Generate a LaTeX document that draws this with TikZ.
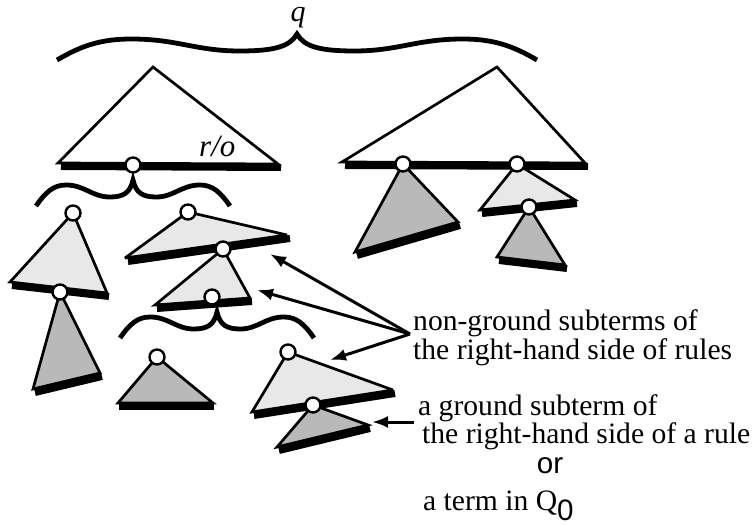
\documentclass[tikz,border=0pt]{standalone}
\usepackage{fontspec}
\setmainfont{Liberation Serif}
\newfontfamily\sansf{Liberation Sans}
\usetikzlibrary{arrows.meta}
\tikzset{
 tri/.style={draw, line width=2.7pt, line join=miter, miter limit=4},
 light/.style={tri, fill=gray!18},
 dark/.style={tri, fill=gray!55},
 blank/.style={tri, fill=white},
 shd/.style={line width=7pt, line cap=butt},
 dot/.style={circle, draw, line width=2.4pt, fill=white, minimum size=15pt, inner sep=0pt},
 brc/.style={line width=4.8pt},
 arr/.style={line width=3pt, -{Latex[length=16pt,width=12pt]}},
 lbl/.style={font=\fontsize{29.6}{30}\selectfont, inner sep=0pt, anchor=base west},
 wavy/.pic={\draw[brc] (-#1,26) .. controls (-0.9*#1,12) and (-0.82*#1,5) .. (-0.69*#1,5)
   .. controls (-0.5*#1,5) and (-0.42*#1,17) .. (-0.24*#1,17)
   .. controls (-0.1*#1,17) and (-0.03*#1,13) .. (0,0)
   .. controls (0.03*#1,13) and (0.1*#1,17) .. (0.24*#1,17)
   .. controls (0.42*#1,17) and (0.5*#1,5) .. (0.69*#1,5)
   .. controls (0.82*#1,5) and (0.9*#1,12) .. (#1,26);}
}
\begin{document}
\begin{tikzpicture}[x=1pt,y=-1pt]
\useasboundingbox (0,0) rectangle (755,526);
% attachment points
\coordinate (p1) at (133,165);
\coordinate (p2) at (403,164);
\coordinate (p3) at (517,164);
\coordinate (p4) at (529,207);
\coordinate (p5) at (73,213);
\coordinate (p6) at (60,292);
\coordinate (p7) at (188,212);
\coordinate (p8) at (223,249);
\coordinate (p9) at (212,297);
\coordinate (p10) at (157,357);
\coordinate (p11) at (288,352);
\coordinate (p12) at (313,405);
% braces
\pic at (297,34) {wavy=240};
\pic at (133,180) {wavy=97};
\pic at (217,312) {wavy=97};
\node[font=\itshape\fontsize{30}{30}\selectfont, anchor=base, inner sep=0pt] (q) at (298,22) {q};
% big white triangles
\coordinate (WL1) at (58,163); \coordinate (WR1) at (278,164);
\draw[shd] ([shift={(3,3.5)}]WL1) -- ([shift={(3,3.5)}]WR1);
\draw[blank] (153,67) -- (WR1) -- (WL1) -- cycle;
\node[font=\itshape\fontsize{31}{31}\selectfont, anchor=base west, inner sep=0pt] (ro) at (199,157) {r/o};
\coordinate (WL2) at (342,162); \coordinate (WR2) at (585,163);
\draw[shd] ([shift={(3,3.5)}]WL2) -- ([shift={(3,3.5)}]WR2);
\draw[blank] (497,67) -- (WR2) -- (WL2) -- cycle;
% right side subtrees
\coordinate (D1L) at (355,252); \coordinate (D1R) at (458,222);
\draw[shd] ([shift={(2,3.5)}]D1L) -- ([shift={(2,3.5)}]D1R);
\draw[dark] (p2) -- (D1R) -- (D1L) -- cycle;
\coordinate (L1L) at (480,210); \coordinate (L1R) at (575,200);
\draw[shd] ([shift={(2,3.5)}]L1L) -- ([shift={(2,3.5)}]L1R);
\draw[light] (p3) -- (L1R) -- (L1L) -- cycle;
\coordinate (D2L) at (497,257); \coordinate (D2R) at (565,265);
\draw[shd] ([shift={(2,3.5)}]D2L) -- ([shift={(2,3.5)}]D2R);
\draw[dark] (p4) -- (D2R) -- (D2L) -- cycle;
% left column
\coordinate (L2L) at (10,282); \coordinate (L2R) at (107,293);
\draw[shd] ([shift={(2,3.5)}]L2L) -- ([shift={(2,3.5)}]L2R);
\draw[light] (p5) -- (L2R) -- (L2L) -- cycle;
\coordinate (D3L) at (33,389); \coordinate (D3R) at (100,373);
\draw[shd] ([shift={(2,3.5)}]D3L) -- ([shift={(2,3.5)}]D3R);
\draw[dark] (p6) -- (D3R) -- (D3L) -- cycle;
% middle column
\coordinate (L3L) at (125,258); \coordinate (L3R) at (287,235);
\draw[shd] ([shift={(3,3.5)}]L3L) -- ([shift={(3,3.5)}]L3R);
\draw[light] (p7) -- (L3R) -- (L3L) -- cycle;
\coordinate (L4L) at (155,305); \coordinate (L4R) at (250,298);
\draw[shd] ([shift={(2,3.5)}]L4L) -- ([shift={(2,3.5)}]L4R);
\draw[light] (p8) -- (L4R) -- (L4L) -- cycle;
\coordinate (D4L) at (118,403); \coordinate (D4R) at (213,403);
\draw[shd] ([shift={(1,3.5)}]D4L) -- ([shift={(1,3.5)}]D4R);
\draw[dark] (p10) -- (D4R) -- (D4L) -- cycle;
\coordinate (L5L) at (252,412); \coordinate (L5R) at (393,390);
\draw[shd] ([shift={(2,3.5)}]L5L) -- ([shift={(2,3.5)}]L5R);
\draw[light] (p11) -- (L5R) -- (L5L) -- cycle;
\coordinate (D5L) at (277,447); \coordinate (D5R) at (368,425);
\draw[shd] ([shift={(2,3.5)}]D5L) -- ([shift={(2,3.5)}]D5R);
\draw[dark] (p12) -- (D5R) -- (D5L) -- cycle;
% circles
\foreach \i in {1,...,12} {\node[dot] (c\i) at (p\i) {};}
% texts
\node[lbl] (t1) at (413,331) {non-ground subterms of};
\node[lbl] (t2) at (413,360) {the right-hand side of rules};
\node[lbl] (t3) at (418,415) {a ground subterm of};
\node[lbl] (t4) at (422,443) {the right-hand side of a rule};
\node[lbl, anchor=base, font=\sansf\fontsize{29.6}{30}\selectfont] (t5) at (550,473) {or};
\node[lbl] (t6) at (423,510) {a term in Q\raisebox{-10pt}{\sansf 0}};
% arrows
\coordinate (src) at (410,334);
\coordinate (a1) at (270,254);
\coordinate (a2) at (257,290);
\coordinate (a3) at (330,360);
\draw[arr] (src) -- (a1);
\draw[arr] (src) -- (a2);
\draw[arr] (src) -- (a3);
\coordinate (src2) at (414,422);
\coordinate (a4) at (372,422);
\draw[arr] (src2) -- (a4);
\end{tikzpicture}
\end{document}
